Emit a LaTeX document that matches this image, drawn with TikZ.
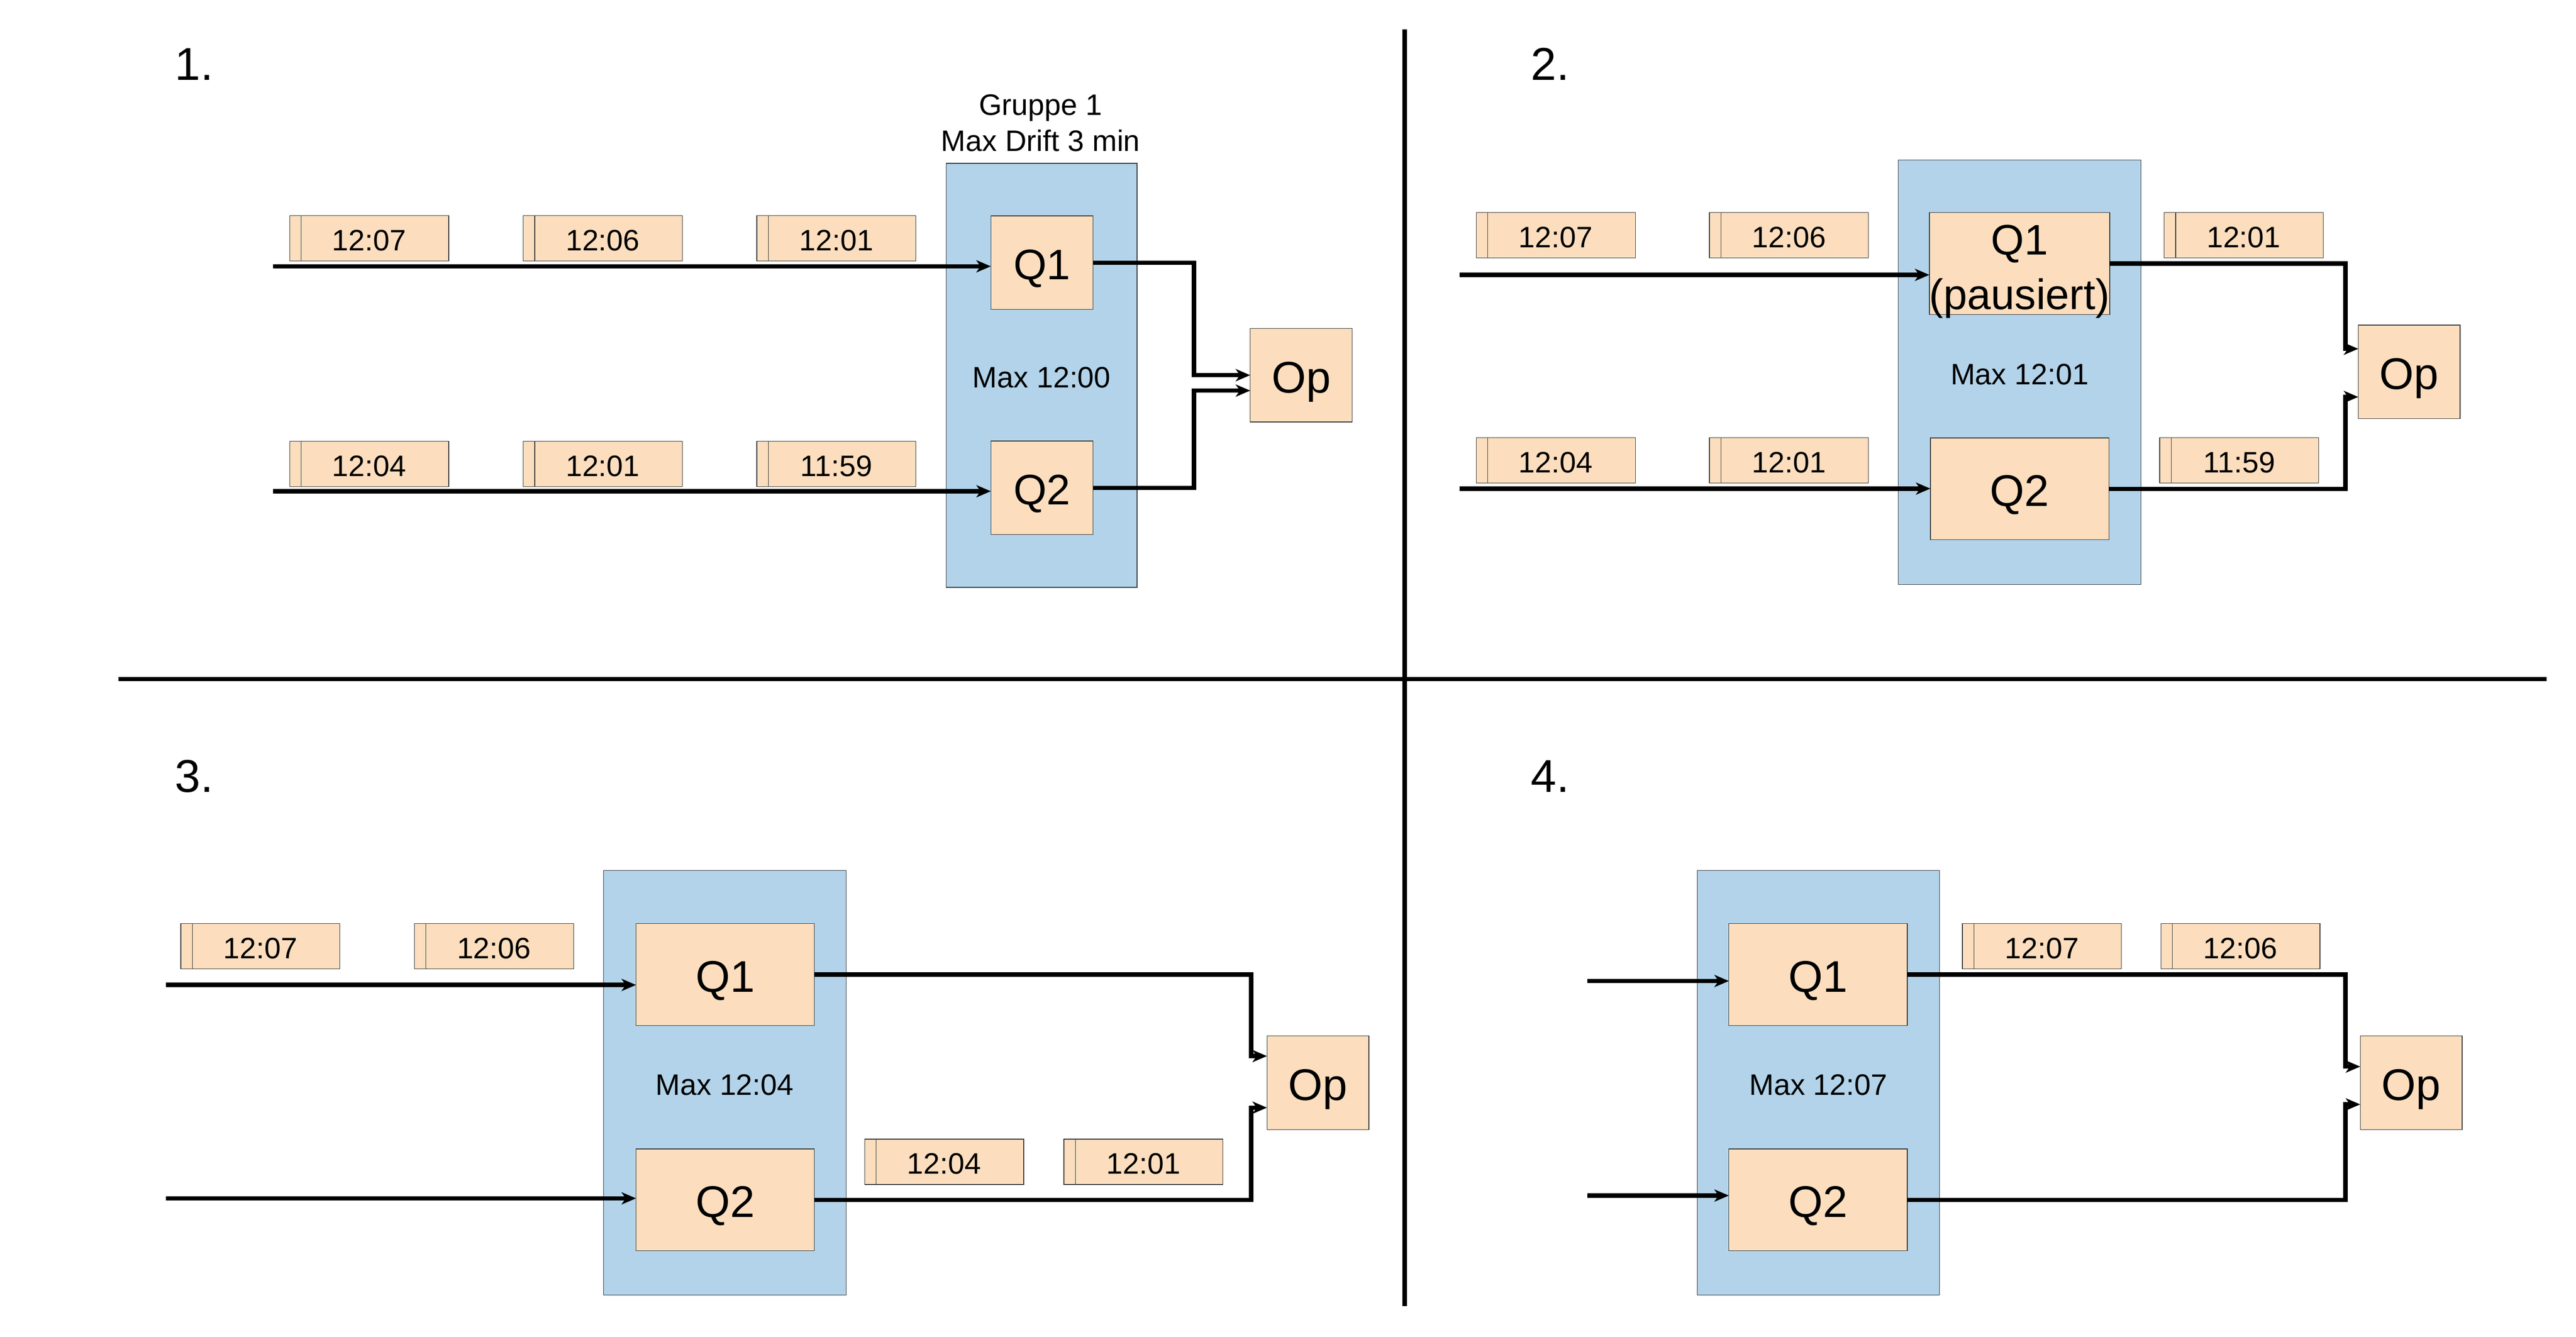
\documentclass[tikz,border=0pt]{standalone}
\usepackage{fontspec}
\setmainfont{Liberation Sans}
\usetikzlibrary{arrows.meta}
\definecolor{peach}{HTML}{FCDEBE}
\definecolor{grpblue}{HTML}{B2D3E9}
\definecolor{edge}{HTML}{3A3A3A}

\begin{document}
\begin{tikzpicture}[x=1pt,y=-1pt]
\tikzstyle{every node}=[inner sep=0pt, outer sep=0pt]
\tikzstyle{grp}=[draw=edge, line width=0.4pt, fill=grpblue, font=\fontsize{18}{22}\selectfont, text height=14.9pt, text depth=0pt]
\tikzstyle{qbox}=[draw=edge, line width=0.4pt, fill=peach, minimum width=108.6pt, minimum height=62pt, font=\fontsize{27}{32}\selectfont, text height=21.3pt, text depth=0pt]
\tikzstyle{qsmall}=[qbox, minimum width=62.3pt, minimum height=57pt, font=\fontsize{26}{30}\selectfont, text height=20.6pt]
\tikzstyle{opbox}=[draw=edge, line width=0.4pt, fill=peach, minimum width=62pt, minimum height=57pt, font=\fontsize{27}{30}\selectfont, text height=21.3pt, text depth=0pt]
\tikzstyle{card}=[draw=edge, line width=0.4pt, fill=peach, minimum width=96.8pt, minimum height=27.6pt, font=\fontsize{18}{20}\selectfont, text height=14.9pt, text depth=0pt,
  path picture={\draw[edge, line width=0.4pt] ([xshift=7pt]path picture bounding box.north west) -- ([xshift=7pt]path picture bounding box.south west);}]
\tikzstyle{flow}=[line width=2.7pt, -{Stealth[length=8.8pt, width=7.4pt, inset=2.5pt]}]
\tikzstyle{wire}=[line width=2.7pt]
\tikzstyle{num}=[anchor=west, font=\fontsize{28}{32}\selectfont, text height=20pt, text depth=0pt]
\fill[white] (0,0) rectangle (1568,813.5);
\useasboundingbox (0,0) rectangle (1568,813.5);
% separators
\draw[wire] (855,18) -- (855,795);
\draw[wire] (72,413.3) -- (1550,413.3);
\draw (106.5,38.8) node (n1) [num] {1.};
\draw (932,38.8) node (n2) [num] {2.};
\draw (106.5,472) node (n3) [num] {3.};
\draw (932,472) node (n4) [num] {4.};
% 1.
\draw (634.05,228.45) node (g1) [grp, minimum width=116.1pt, minimum height=258.1pt] {Max 12:00};
\draw (633.4,74.9) node (g1lbl) [font=\fontsize{18}{22.2}\selectfont, align=center] {Gruppe 1\\Max Drift 3 min};
\draw (634.25,159.9) node (q11) [qsmall] {Q1};
\draw (634.25,296.95) node (q12) [qsmall] {Q2};
\draw (792,228.35) node (o1) [opbox] {Op};
\draw (224.75,145.1) node (t11) [card] {12:07};
\draw (366.9,145.1) node (t12) [card] {12:06};
\draw (509.05,145.1) node (t13) [card] {12:01};
\draw (224.75,282.35) node (t14) [card] {12:04};
\draw (366.9,282.35) node (t15) [card] {12:01};
\draw (509.05,282.35) node (t16) [card] {11:59};
\coordinate (i11) at (166.2,162.1);
\coordinate (i12) at (166.2,299);
\draw[flow] (i11) -- (q11.west |- i11);
\draw[flow] (i12) -- (q12.west |- i12);
\draw[flow] (q11.east) -- (726.8,159.9) |- (o1.west);
\draw[flow] (q12.east) -- (726.8,296.95) |- ([yshift=-9.4pt]o1.west);
% 2.
\draw (1229.3,226.55) node (g2) [grp, minimum width=147.8pt, minimum height=258.3pt] {Max 12:01};
\draw (1229.3,160.45) node (q21) [qbox, font=\fontsize{26}{33}\selectfont, align=center, text height=55.5pt, text depth=0pt] {Q1\\(pausiert)};
\draw (1229.3,297.55) node (q22) [qbox] {Q2};
\draw (1466.45,226.35) node (o2) [opbox] {Op};
\draw (947,143.25) node (t21) [card] {12:07};
\draw (1088.95,143.25) node (t22) [card] {12:06};
\draw (1365.7,143.25) node (t23) [card] {12:01};
\draw (947,280.3) node (t24) [card] {12:04};
\draw (1088.95,280.3) node (t25) [card] {12:01};
\draw (1363,280.3) node (t26) [card] {11:59};
\coordinate (i21) at (888.5,167.3);
\coordinate (i22) at (888.5,297.4);
\draw[flow] (i21) -- (q21.west |- i21);
\draw[flow] (i22) -- (q22.west |- i22);
\draw[flow] (q21.east) -- (1427.7,160.45) |- ([yshift=14.05pt]o2.west);
\draw[flow] (q22.east) -- (1427.7,297.55) |- ([yshift=-15.25pt]o2.west);
% 3.
\draw (441.15,659.05) node (g3) [grp, minimum width=147.7pt, minimum height=258.5pt] {Max 12:04};
\draw (441.45,593.1) node (q31) [qbox] {Q1};
\draw (441.45,730.35) node (q32) [qbox] {Q2};
\draw (802.2,659.05) node (o3) [opbox] {Op};
\draw (158.5,575.9) node (t31) [card] {12:07};
\draw (300.7,575.9) node (t32) [card] {12:06};
\draw (574.75,707.2) node (t33) [card] {12:04};
\draw (696,707.2) node (t34) [card] {12:01};
\coordinate (i31) at (101,599.5);
\coordinate (i32) at (101,729.4);
\draw[flow] (i31) -- (q31.west |- i31);
\draw[flow] (i32) -- (q32.west |- i32);
\draw[flow] (q31.east) -- (761.6,593.1) |- ([yshift=16.25pt]o3.west);
\draw[flow] (q32.east) -- (761.6,730.35) |- ([yshift=-15.15pt]o3.west);
% 4.
\draw (1106.85,659.05) node (g4) [grp, minimum width=147.3pt, minimum height=258.5pt] {Max 12:07};
\draw (1106.65,593.1) node (q41) [qbox] {Q1};
\draw (1106.65,730.35) node (q42) [qbox] {Q2};
\draw (1467.65,659.05) node (o4) [opbox] {Op};
\draw (1242.85,576) node (t41) [card] {12:07};
\draw (1363.75,576) node (t42) [card] {12:06};
\coordinate (i41) at (966.3,597.1);
\coordinate (i42) at (966.3,727.7);
\draw[flow] (i41) -- (q41.west |- i41);
\draw[flow] (i42) -- (q42.west |- i42);
\draw[flow] (q41.east) -- (1427.6,593.1) |- ([yshift=9.85pt]o4.west);
\draw[flow] (q42.east) -- (1427.6,730.35) |- ([yshift=-13.15pt]o4.west);
\end{tikzpicture}
\end{document}
